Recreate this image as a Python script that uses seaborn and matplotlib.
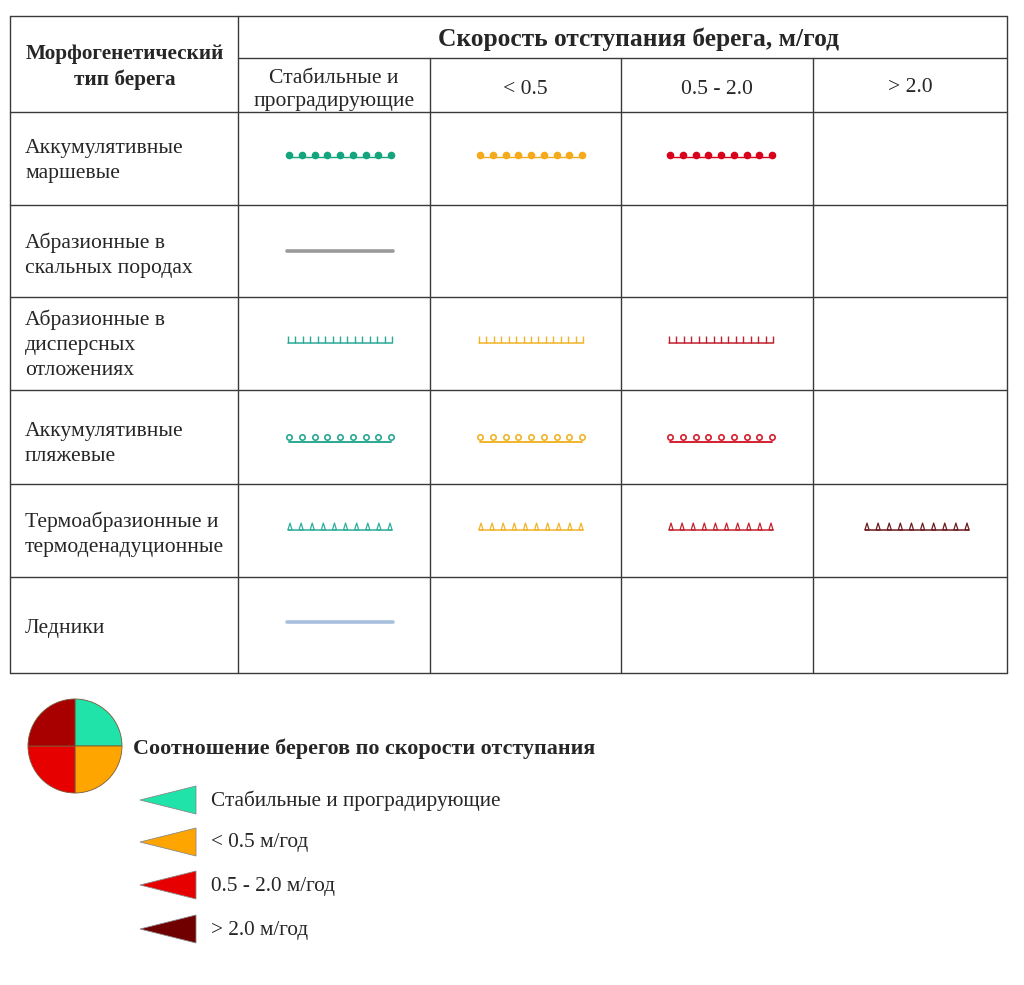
import numpy as np
import pandas as pd
import matplotlib
matplotlib.use("Agg")
import matplotlib.pyplot as plt
from matplotlib.patches import Wedge, Polygon
import seaborn as sns

# ---------------- data ----------------
row_labels = [
    "Аккумулятивные\nмаршевые",
    "Абразионные в\nскальных породах",
    "Абразионные в\nдисперсных\nотложениях",
    "Аккумулятивные\nпляжевые",
    "Термоабразионные и\nтермоденадуционные",
    "Ледники",
]
row_symbols = ["dots", "line", "comb", "rings", "tri", "line"]
col_labels = ["Стабильные и\nпроградирующие", "< 0.5", "0.5 - 2.0", "> 2.0"]
presence = [
    [1, 1, 1, 0],
    [1, 0, 0, 0],
    [1, 1, 1, 0],
    [1, 1, 1, 0],
    [1, 1, 1, 1],
    [1, 0, 0, 0],
]
header_left = "Морфогенетический\nтип берега"
header_top = "Скорость отступания берега, м/год"
legend_title = "Соотношение берегов по скорости отступания"
legend_labels = ["Стабильные и проградирующие", "< 0.5 м/год", "0.5 - 2.0 м/год", "> 2.0 м/год"]
legend_colors = ["#1fe3a9", "#ffa500", "#e60000", "#700000"]
pie_colors = ["#1fe3a9", "#ffa500", "#e60000", "#a80000"]  # TR, BR, BL, TL
pie_shares = [1, 1, 1, 1]

# symbol colours per row / column
sym_colors = [
    ["#14a57f", "#f5aa1c", "#d8001a", None],
    ["#9a9a9a", None, None, None],
    ["#2aa898", "#f0b42a", "#c0202e", None],
    ["#2aa892", "#f0b42a", "#d42030", None],
    ["#2eae9c", "#f0b42a", "#c4232e", "#6e1a1e"],
    ["#a7bfdc", None, None, None],
]

# ---------------- layout ----------------
W, H = 1024, 985
sns.set_theme(style="white")
plt.rcParams["font.family"] = ["Liberation Serif", "DejaVu Serif"]

fig = plt.figure(figsize=(W / 100, H / 100), dpi=100)
ax = fig.add_axes([0, 0, 1, 1])
ax.set_xlim(0, W)
ax.set_ylim(H, 0)
ax.axis("off")

x_edges = [10, 238, 430, 621, 813, 1007]
y_top, y_sub, y_head = 16, 58, 112
y_rows = [112, 205, 297, 390, 484, 577, 673]
lc = "#3a3a3a"
lw = 1.0

# table grid
ax.plot([x_edges[0], x_edges[-1]], [y_top, y_top], color=lc, lw=lw)
ax.plot([x_edges[1], x_edges[-1]], [y_sub, y_sub], color=lc, lw=lw)
for y in y_rows:
    ax.plot([x_edges[0], x_edges[-1]], [y, y], color=lc, lw=lw)
ax.plot([x_edges[0]] * 2, [y_top, y_rows[-1]], color=lc, lw=lw)
ax.plot([x_edges[-1]] * 2, [y_top, y_rows[-1]], color=lc, lw=lw)
ax.plot([x_edges[1]] * 2, [y_top, y_rows[-1]], color=lc, lw=lw)
for x in x_edges[2:-1]:
    ax.plot([x, x], [y_sub, y_rows[-1]], color=lc, lw=lw)

fs = 15.6
ax.text((x_edges[0] + x_edges[1]) / 2 + 1, 67, header_left, ha="center", va="center",
        fontsize=15.3, fontweight="bold", linespacing=1.34)
ax.text(639, 39, header_top, ha="center", va="center", fontsize=18.4, fontweight="bold")

sub_y = [90, 90, 89, 87]
for j, lab in enumerate(col_labels):
    cx = (x_edges[j + 1] + x_edges[j + 2]) / 2
    ax.text(cx, sub_y[j], lab, ha="center", va="center", fontsize=fs, linespacing=1.3)

row_cy = [161, 255, 345, 444, 534, 628]
for i, lab in enumerate(row_labels):
    ax.text(25, row_cy[i], lab, ha="left", va="center", fontsize=fs, linespacing=1.42)

# symbol offsets in cells
sym_y = [155, 251, 341, 440, 530, 622]
sym_starts = [287, 478, 668, 864]
sym_len = 106

tri_marker = [(-0.3, 0.0), (0.0, 1.0), (0.3, 0.0), (-0.3, 0.0)]

for i, kind in enumerate(row_symbols):
    for j in range(4):
        if not presence[i][j]:
            continue
        c = sym_colors[i][j]
        x0 = sym_starts[j]
        x1 = x0 + sym_len
        y = sym_y[i]
        if kind == "line":
            ax.plot([x0, x1], [y, y], color=c, lw=2.6, solid_capstyle="round")
        elif kind == "dots":
            ax.plot([x0, x1], [y + 2, y + 2], color=c, lw=1.0)
            xs = np.linspace(x0 + 2, x1 - 2, 9)
            sns.scatterplot(x=xs, y=np.full_like(xs, y), ax=ax, color=c, s=30,
                            marker="o", edgecolor=c, linewidth=0, legend=False)
        elif kind == "comb":
            ax.plot([x0 + 1, x1 - 1], [y + 2, y + 2], color=c, lw=1.1)
            xs = np.linspace(x0 + 1, x1 - 1, 15)
            ax.vlines(xs, y - 5, y + 2, color=c, lw=1.0)
        elif kind == "rings":
            ax.plot([x0 + 2, x1 - 2], [y + 2, y + 2], color=c, lw=1.4)
            xs = np.linspace(x0 + 2, x1 - 2, 9)
            sns.scatterplot(x=xs, y=np.full_like(xs, y - 3.5), ax=ax, s=15, marker="o",
                            facecolor="white", edgecolor=c, linewidth=1.2, legend=False)
        elif kind == "tri":
            ax.plot([x0 + 1, x1 - 1], [y, y], color=c, lw=1.1)
            xs = np.linspace(x0 + 3, x1 - 3, 10)
            sns.scatterplot(x=xs, y=np.full_like(xs, y), ax=ax, s=100, marker=tri_marker,
                            facecolor="none", edgecolor=c, linewidth=0.9, legend=False)

# ---------------- legend ----------------
pcx, pcy, pr = 75, 746, 47
angles = np.cumsum([0] + pie_shares) / sum(pie_shares) * 360.0
# visual order: top-right, bottom-right, bottom-left, top-left (y axis inverted)
starts = [270, 0, 90, 180]
for k, col in enumerate(pie_colors):
    a0 = starts[k]
    a1 = a0 + (angles[k + 1] - angles[k])
    ax.add_patch(Wedge((pcx, pcy), pr, a0, a1, facecolor=col, edgecolor="#7a5a3a", lw=0.6))

ax.text(133, 749, legend_title, ha="left", va="center", fontsize=15.8, fontweight="bold")

leg_y = [800, 842, 885, 929]
for k, (lab, col) in enumerate(zip(legend_labels, legend_colors)):
    y = leg_y[k]
    ax.add_patch(Polygon([(140, y), (196, y - 14), (196, y + 14)], closed=True,
                         facecolor=col, edgecolor="#8a8a8a", lw=0.6))
    ax.text(211, y + 1, lab, ha="left", va="center", fontsize=15.3)

fig.savefig("out.png", dpi=100, facecolor="white")
